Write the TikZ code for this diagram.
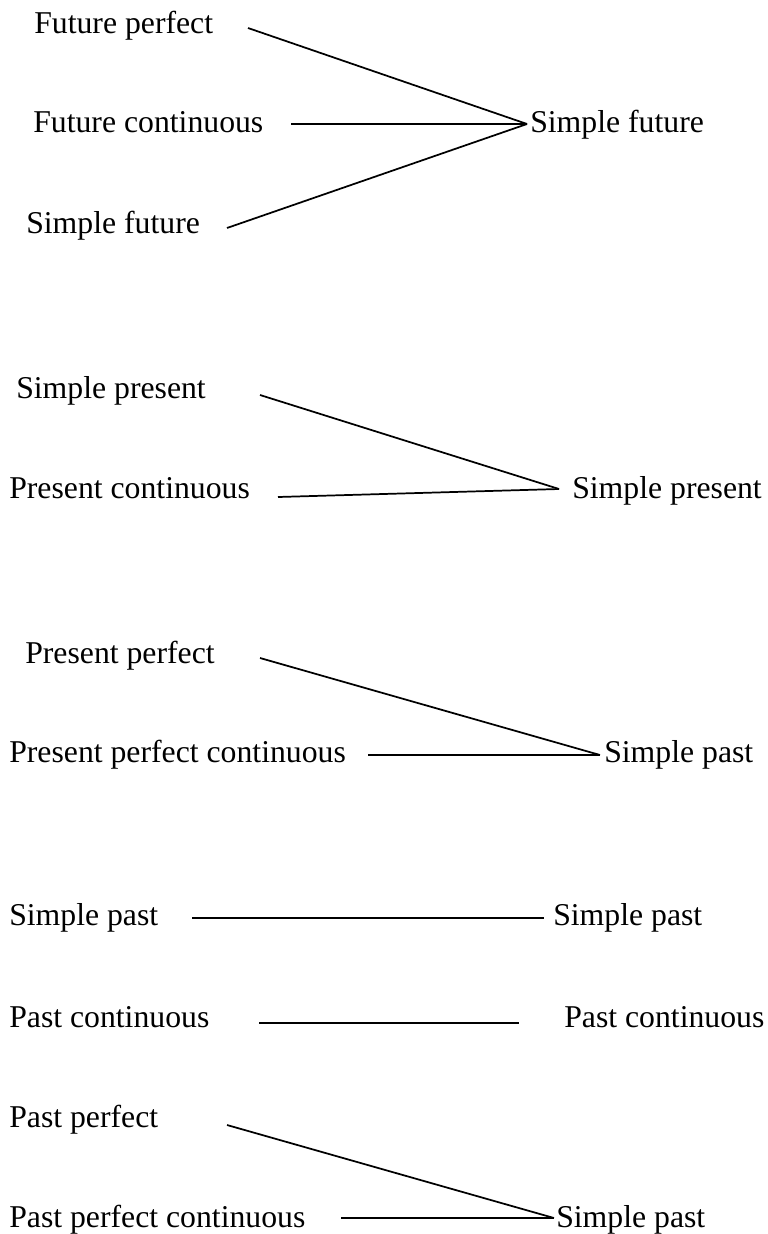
\documentclass[tikz,border=0pt]{standalone}
\usepackage{fontspec}
\setmainfont{Liberation Serif}
\begin{document}
\begin{tikzpicture}[x=0.75pt,y=-0.75pt,
  lbl/.style={anchor=base west,inner sep=0pt,font=\fontsize{23.8pt}{28pt}\selectfont},
  link/.style={draw=black,line width=1.3pt}]
\useasboundingbox (0,0) rectangle (767,1234);

% future group
\node[lbl] (fperf) at (34,34) {Future perfect};
\node[lbl] (fcont) at (33,133) {Future continuous};
\node[lbl] (fsimp) at (26,233) {Simple future};
\node[lbl] (rfut)  at (530,133) {Simple future};
\coordinate (hfut) at (527,124);
\coordinate (efperf) at (248,28);
\coordinate (efcont) at (291,124);
\coordinate (efsimp) at (227,228);
\draw[link] (efperf) -- (hfut);
\draw[link] (efcont) -- (hfut);
\draw[link] (efsimp) -- (hfut);

% present group
\node[lbl] (spres) at (16,398) {Simple present};
\node[lbl] (pcont) at (9,498) {Present continuous};
\node[lbl] (rpres) at (572,498) {Simple present};
\coordinate (hpres) at (559,489);
\coordinate (espres) at (260,395);
\coordinate (epcont) at (278,497);
\draw[link] (espres) -- (hpres);
\draw[link] (epcont) -- (hpres);

% present perfect group
\node[lbl] (pperf) at (25,663) {Present perfect};
\node[lbl] (ppcont) at (9,762) {Present perfect continuous};
\node[lbl] (rpp) at (604,762) {Simple past};
\coordinate (hpp) at (600,755);
\coordinate (epperf) at (260,658);
\coordinate (eppcont) at (368,755);
\draw[link] (epperf) -- (hpp);
\draw[link] (eppcont) -- (hpp);

% simple past and past continuous
\node[lbl] (spast) at (9,925) {Simple past};
\node[lbl] (rspast) at (553,925) {Simple past};
\coordinate (espast) at (192,918);
\coordinate (hspast) at (544,918);
\draw[link] (espast) -- (hspast);

\node[lbl] (pacont) at (9,1027) {Past continuous};
\node[lbl] (rpacont) at (564,1027) {Past continuous};
\coordinate (epacont) at (259,1023);
\coordinate (hpacont) at (519,1023);
\draw[link] (epacont) -- (hpacont);

% past perfect group
\node[lbl] (paperf) at (9,1127) {Past perfect};
\node[lbl] (papcont) at (9,1227) {Past perfect continuous};
\node[lbl] (rpap) at (556,1227) {Simple past};
\coordinate (hpap) at (554,1218);
\coordinate (epaperf) at (227,1125);
\coordinate (epapcont) at (341,1218);
\draw[link] (epaperf) -- (hpap);
\draw[link] (epapcont) -- (hpap);
\end{tikzpicture}
\end{document}
